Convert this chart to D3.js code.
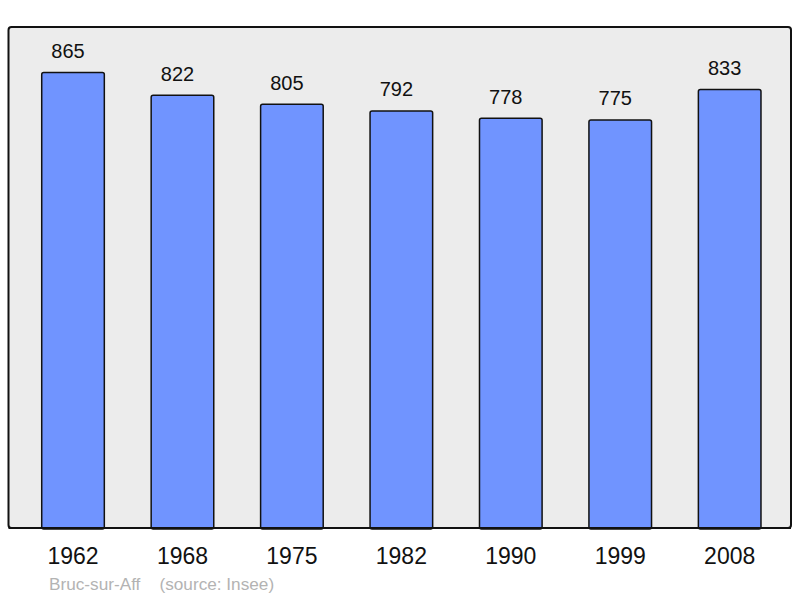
<!DOCTYPE html>
<html>
<head>
<meta charset="utf-8">
<script src="https://cdn.jsdelivr.net/npm/d3@7"></script>
<style>
  html, body { margin: 0; padding: 0; background: #fff; }
  svg { display: block; }
  text { font-family: "Liberation Sans", Arial, sans-serif; }
</style>
</head>
<body>
<svg id="chart" width="800" height="598"></svg>
<script>
const years = ["1962", "1968", "1975", "1982", "1990", "1999", "2008"];
const population = [865, 822, 805, 792, 778, 775, 833];
const commune = "Bruc-sur-Aff";
const sourceText = "(source: Insee)";

const svg = d3.select("#chart");
const panel = { left: 8.5, top: 27, right: 791, bottom: 528 };

svg.append("rect")
  .attr("x", panel.left).attr("y", panel.top)
  .attr("width", panel.right - panel.left).attr("height", panel.bottom - panel.top)
  .attr("rx", 3).attr("ry", 3)
  .attr("fill", "#ececec").attr("stroke", "#111").attr("stroke-width", 2);

const x = d3.scaleBand().domain(years).range([18.3, 784.4]).paddingInner(0.428).paddingOuter(0.214);
const y = d3.scaleLinear().domain([0, d3.max(population) * 1.1]).range([panel.bottom, panel.top]);

const data = years.map((yr, i) => ({ year: yr, value: population[i] }));

svg.selectAll("rect.bar").data(data).enter().append("rect")
  .attr("class", "bar")
  .attr("x", d => x(d.year))
  .attr("y", d => y(d.value))
  .attr("width", x.bandwidth())
  .attr("height", d => y(0) - y(d.value) + 1)
  .attr("rx", 2).attr("ry", 2)
  .attr("fill", "#7094ff").attr("stroke", "#111").attr("stroke-width", 1.5);

svg.append("line")
  .attr("x1", panel.left).attr("x2", panel.right)
  .attr("y1", panel.bottom).attr("y2", panel.bottom)
  .attr("stroke", "#111").attr("stroke-width", 2);

svg.selectAll("text.val").data(data).enter().append("text")
  .attr("class", "val")
  .attr("x", d => x(d.year) + x.bandwidth() / 2 - 5)
  .attr("y", d => y(d.value) - 14.5)
  .attr("text-anchor", "middle")
  .attr("font-size", 20)
  .attr("fill", "#111")
  .text(d => d.value);

const xAxis = svg.append("g").attr("transform", `translate(0,${panel.bottom})`)
  .call(d3.axisBottom(x).tickSize(0).tickPadding(0));
xAxis.select(".domain").remove();
xAxis.selectAll("text")
  .attr("y", 36).attr("dy", 0)
  .attr("font-size", 23)
  .attr("fill", "#111")
  .style("font-family", '"Liberation Sans", Arial, sans-serif');

svg.append("text")
  .attr("x", 49).attr("y", 590)
  .attr("font-size", 17.2)
  .attr("fill", "#b3b3b3")
  .attr("xml:space", "preserve")
  .text(commune + "    " + sourceText);
</script>
</body>
</html>
